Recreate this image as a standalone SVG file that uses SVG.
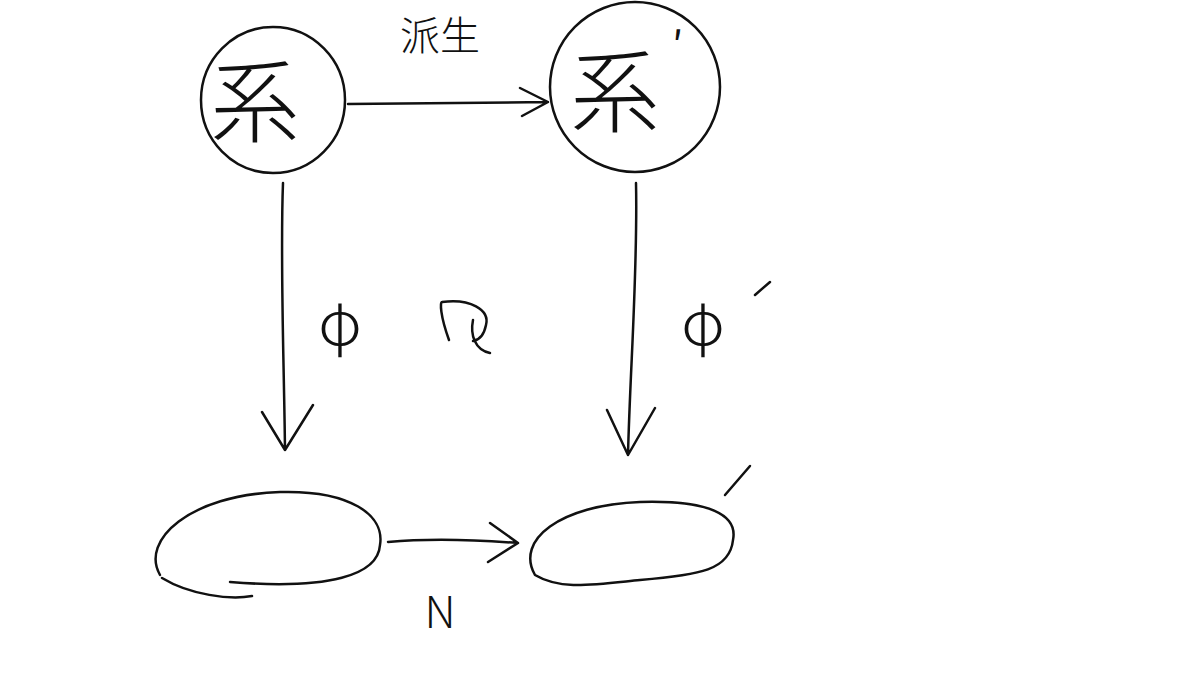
<svg xmlns="http://www.w3.org/2000/svg" width="1200" height="675" viewBox="0 0 1200 675">
<defs>
<style>
.s{fill:none;stroke:#111;stroke-width:2.5;stroke-linecap:round;stroke-linejoin:round}
.t{font-family:"Noto Sans CJK JP","Noto Sans",sans-serif;fill:#111}
</style>
</defs>
<rect width="1200" height="675" fill="#fff"/>
<g id="node-a"><ellipse class="s" cx="273" cy="100" rx="72" ry="73"/><text class="t" x="255" y="135" font-size="90" text-anchor="middle" font-weight="200">系</text></g>
<g id="node-b"><ellipse class="s" cx="635" cy="87" rx="85" ry="85"/><text class="t" x="615" y="125" font-size="90" text-anchor="middle" font-weight="200">系</text><text class="t" x="672" y="60" font-size="40">′</text></g>
<g id="node-c"><path class="s" d="M160,575 C140,540 190,495 280,492 C350,490 385,515 380,545 C378,575 330,590 230,582 M162,578 C190,595 230,600 252,596"/></g>
<g id="node-d"><path class="s" d="M535,575 C515,540 560,505 640,502 C710,500 738,515 733,540 C730,570 700,575 640,580 C590,585 560,590 535,575"/><path class="s" d="M725,495 L750,466"/></g>
<g id="labels">
<text class="t" x="440" y="50" font-size="40" text-anchor="middle" font-weight="300">派生</text>
<text class="t" x="340" y="345" font-size="60" text-anchor="middle" font-weight="300">φ</text>
<text class="t" x="703" y="345" font-size="60" text-anchor="middle" font-weight="300">φ</text>
<path class="s" d="M755,295 L770,282"/>
<path class="s" d="M449,340 C440,315 440,302 442,302 C470,298 490,310 486,325 C484,335 480,340 473,341 M473,320 C470,335 475,350 490,353"/>
<text class="t" x="440" y="628" font-size="44" text-anchor="middle" font-weight="300">N</text>
</g>
<g id="connectors">
<path class="s" d="M348,104 L548,102 M520,88 L548,102 L522,116"/>
<path class="s" d="M283,183 C280,260 284,360 285,450 M262,412 L285,450 L313,405"/>
<path class="s" d="M636,183 C638,270 630,370 628,455 M607,410 L628,455 L655,408"/>
<path class="s" d="M388,542 C430,538 480,540 518,543 M490,523 L518,543 L488,562"/>
</g>
</svg>
